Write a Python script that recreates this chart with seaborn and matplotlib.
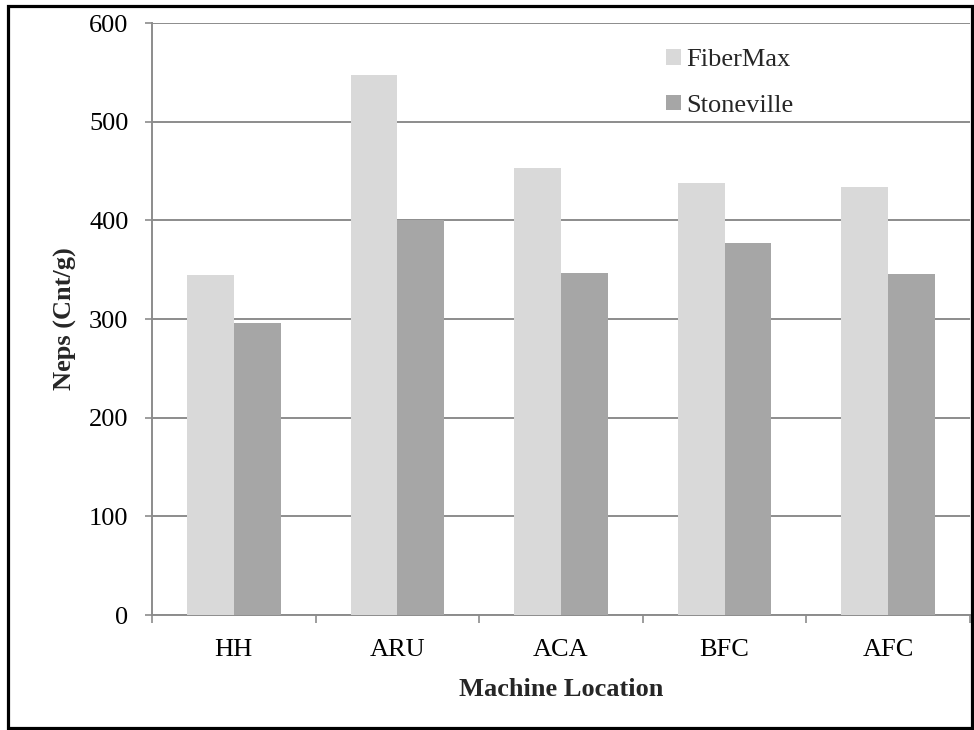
import matplotlib
matplotlib.use("Agg")
import matplotlib.pyplot as plt
import seaborn as sns
import pandas as pd
from matplotlib.patches import Rectangle
from matplotlib.ticker import FixedLocator

locations = ["HH", "ARU", "ACA", "BFC", "AFC"]
fibermax = [345, 547, 453, 438, 434]
stoneville = [296, 400, 347, 377, 346]
series_names = ["FiberMax", "Stoneville"]
y_ticks = [0, 100, 200, 300, 400, 500, 600]

df = pd.DataFrame({
    "Machine Location": locations * 2,
    "Neps": fibermax + stoneville,
    "Variety": [series_names[0]] * len(locations) + [series_names[1]] * len(locations),
})

sns.set_theme(style="white")
plt.rcParams["font.family"] = ["Liberation Serif", "DejaVu Serif"]

W, H = 974, 730
fig = plt.figure(figsize=(W / 100, H / 100), dpi=100)
ax = fig.add_axes([152 / W, 1 - 615 / H, (970 - 152) / W, (615 - 23) / H])

grid_c = "#8c8c8c"
sns.barplot(data=df, x="Machine Location", y="Neps", hue="Variety",
            hue_order=series_names, palette=["#d9d9d9", "#a6a6a6"],
            width=0.571, gap=0, saturation=1, edgecolor="none", linewidth=0,
            ax=ax, zorder=3)

ax.set_ylim(0, 600)
ax.set_xlim(-0.5, len(locations) - 0.5)
ax.set_yticks(y_ticks)
ax.yaxis.grid(True, color=grid_c, linewidth=1.4, zorder=0)
ax.set_axisbelow(True)
for s in ["top", "right"]:
    ax.spines[s].set_visible(False)
for s in ["left", "bottom"]:
    ax.spines[s].set_color(grid_c)
    ax.spines[s].set_linewidth(1.4)

fs = 19
ax.tick_params(axis="y", which="major", length=5, width=1.2, color=grid_c,
               direction="out", left=True, labelsize=fs, pad=12, labelcolor="black")
ax.tick_params(axis="x", which="major", length=0, labelsize=fs, pad=17, labelcolor="black")
ax.xaxis.set_minor_locator(FixedLocator([i - 0.5 for i in range(len(locations) + 1)]))
ax.tick_params(axis="x", which="minor", length=6, width=1.2, color=grid_c,
               direction="out", bottom=True)

ax.set_xlabel("Machine Location", fontsize=fs, fontweight="bold", va="center")
ax.set_ylabel("Neps (Cnt/g)", fontsize=fs, fontweight="bold", va="center")
ax.xaxis.set_label_coords(0.5, (615 - 689) / 592)
ax.yaxis.set_label_coords((65 - 152) / 818, 0.5)

handles, labels = ax.get_legend_handles_labels()
ax.legend(handles, labels, loc="upper left",
          bbox_to_anchor=(666 / W, 1 - 49 / H), bbox_transform=fig.transFigure,
          frameon=False, fontsize=fs, handlelength=0.55, handleheight=0.55,
          handletextpad=0.2, labelspacing=0.88, borderpad=0, borderaxespad=0)

fig.patches.append(Rectangle((8 / W, 2 / H), 964 / W, 722 / H,
                             transform=fig.transFigure, fill=False,
                             edgecolor="black", linewidth=2.3, zorder=10))

fig.savefig("out.png", dpi=100, facecolor="white")
